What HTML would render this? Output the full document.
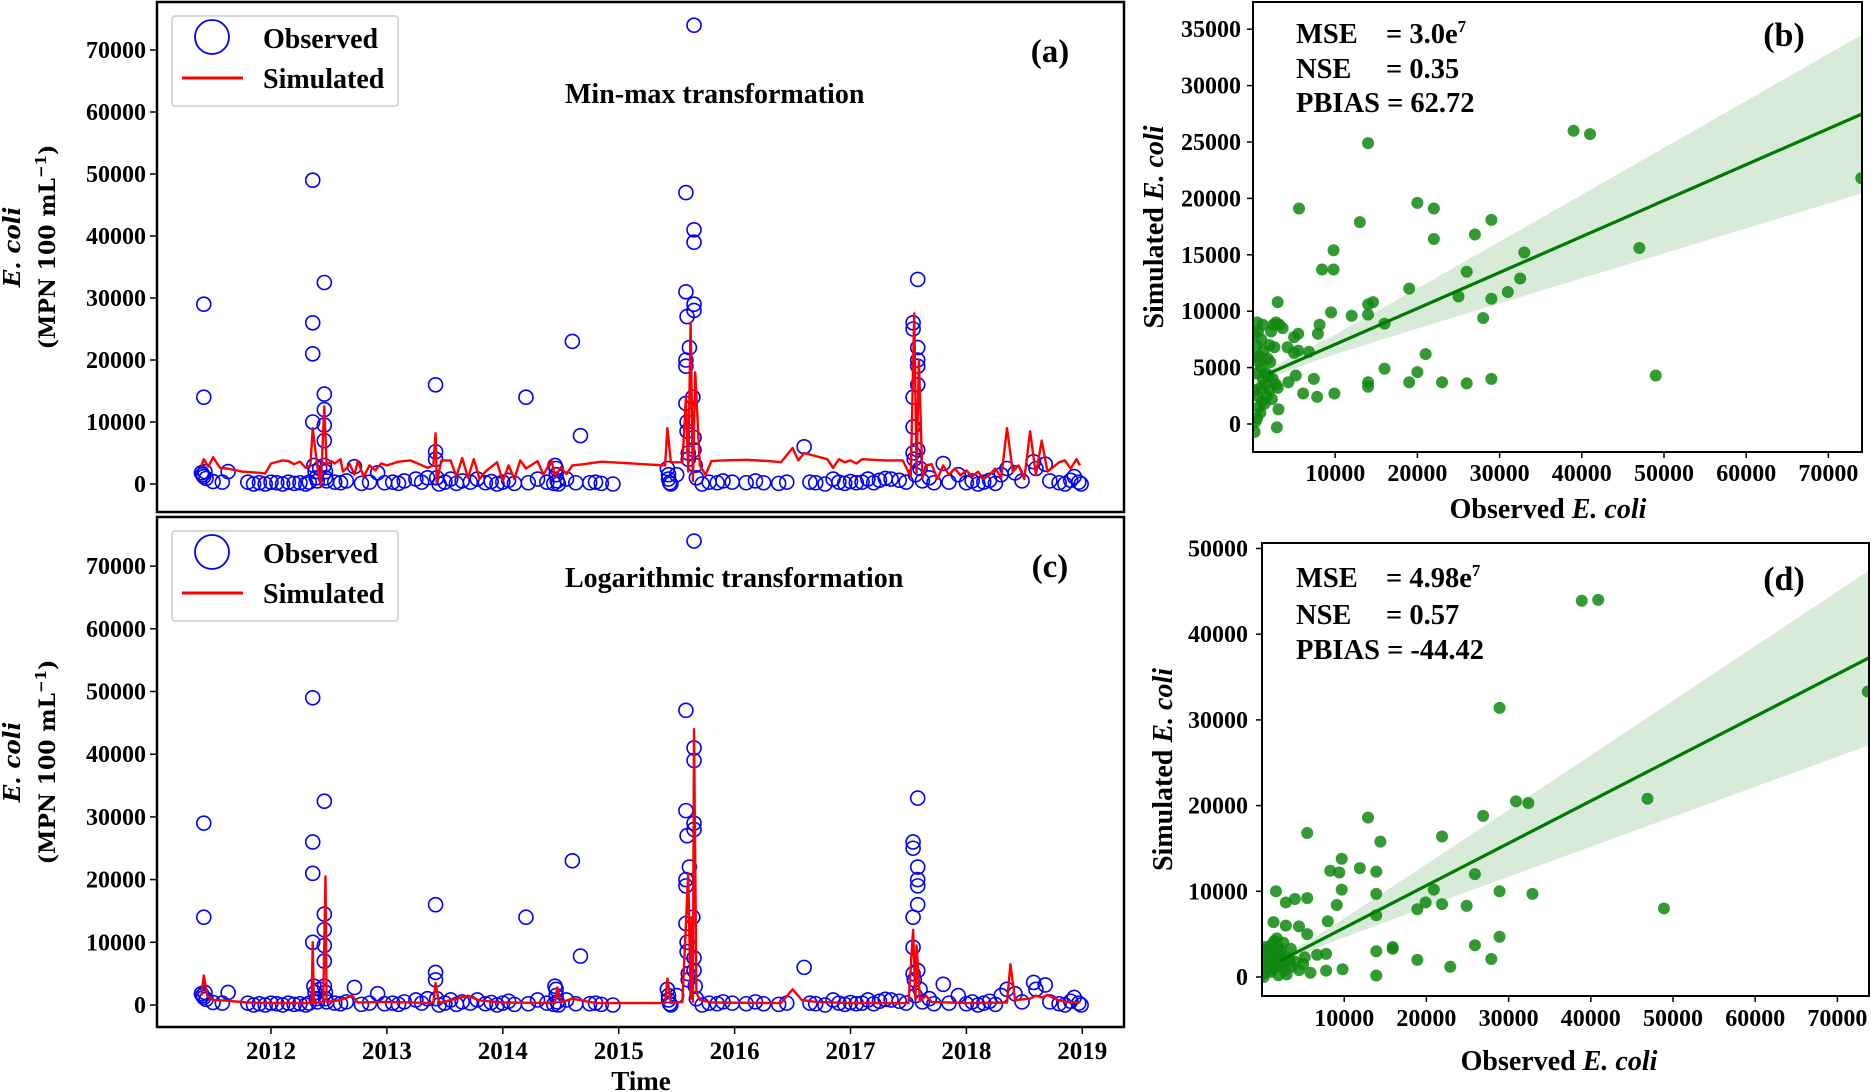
<!DOCTYPE html>
<html><head><meta charset="utf-8"><style>
html,body{margin:0;padding:0;background:#fff;}
svg{display:block;font-family:"Liberation Serif",serif;font-weight:bold;}
</style></head><body>
<svg id="fig" width="1871" height="1092" viewBox="0 0 1871 1092" xmlns="http://www.w3.org/2000/svg"></svg>
<script>
// ---------- DATA ----------
const obsT=[2011.40,2011.41,2011.42,2011.42,2011.42,2011.43,2011.44,2011.5,2011.58,2011.63,2011.8,2011.85,2011.9,2011.95,2012.0,2012.05,2012.1,2012.15,2012.2,2012.25,2012.3,2012.33,
2012.36,2012.36,2012.36,2012.36,2012.37,2012.38,2012.39,2012.4,2012.42,
2012.46,2012.46,2012.46,2012.46,2012.46,2012.46,2012.47,2012.47,2012.48,
2012.55,2012.6,2012.65,2012.72,2012.78,2012.85,2012.92,2012.98,2013.05,2013.1,2013.15,2013.25,2013.3,2013.35,
2013.42,2013.42,2013.42,2013.43,2013.45,2013.5,2013.55,2013.6,2013.65,2013.72,2013.78,2013.85,2013.9,2013.95,2014.0,2014.05,2014.1,2014.2,2014.22,2014.3,2014.38,2014.44,
2014.45,2014.46,2014.46,2014.47,2014.48,2014.55,2014.6,2014.63,2014.67,2014.75,2014.8,2014.85,2014.95,
2015.42,2015.43,2015.43,2015.44,2015.45,2015.5,
2015.58,2015.58,2015.59,2015.58,2015.58,2015.58,2015.59,2015.59,2015.6,2015.6,
2015.65,2015.65,2015.65,2015.65,2015.65,2015.61,2015.64,2015.65,2015.65,2015.66,2015.67,
2015.72,2015.78,2015.85,2015.9,2015.98,2016.1,2016.18,2016.25,2016.38,2016.45,2016.6,2016.65,2016.7,2016.78,2016.85,2016.9,2016.95,2017.0,2017.05,2017.1,2017.15,2017.2,2017.25,2017.3,2017.35,2017.42,2017.48,
2017.54,2017.54,2017.54,2017.54,2017.54,2017.55,2017.56,
2017.58,2017.58,2017.58,2017.58,2017.58,2017.58,2017.6,2017.62,
2017.68,2017.72,2017.8,2017.85,2017.93,2018.0,2018.05,2018.1,2018.15,2018.2,2018.25,2018.3,2018.35,2018.42,2018.48,2018.58,2018.6,2018.68,2018.72,2018.8,2018.85,2018.9,2018.93,2018.97,2018.99];
const obsV=[1800,1500,29000,14000,1200,2000,900,400,300,2000,300,0,200,0,300,200,0,300,100,200,0,300,
49000,26000,21000,10000,3000,2000,1000,500,2500,
32500,14500,12000,9500,7000,3000,2000,1000,500,
300,200,500,2800,100,300,1800,200,300,100,500,800,300,1000,
16000,5200,4000,1000,0,300,800,100,500,300,800,200,400,0,300,600,100,14000,200,800,300,100,
3000,2500,1500,500,0,800,23000,200,7800,200,300,100,0,
2500,1500,800,200,0,1500,
47000,31000,27000,20000,19000,13000,10000,8500,5000,4000,
74000,41000,39000,29000,28000,22000,14000,7500,5500,3000,1000,
0,300,200,500,300,200,500,200,100,300,6000,300,200,0,800,300,100,400,200,300,800,200,600,900,800,600,300,
26000,25000,14000,9200,5000,4000,1500,
33000,22000,20000,19000,16000,5500,2500,500,
1000,200,3300,300,1500,200,500,0,300,600,100,1500,2500,1800,500,3600,2500,3200,500,200,0,600,1200,300,0];
const simAT=[2011.4,2011.42,2011.46,2011.5,2011.56,2011.62,2011.75,2011.9,2011.95,2012.0,2012.1,2012.15,2012.2,2012.25,2012.3,2012.34,2012.36,2012.4,2012.43,2012.46,2012.48,2012.52,2012.55,2012.6,2012.62,2012.65,2012.68,2012.72,2012.75,2012.8,2012.85,2012.9,2012.95,2013.0,2013.1,2013.2,2013.28,2013.35,2013.4,2013.42,2013.43,2013.47,2013.55,2013.6,2013.65,2013.7,2013.75,2013.8,2013.85,2013.95,2014.0,2014.05,2014.1,2014.15,2014.2,2014.3,2014.35,2014.42,2014.45,2014.5,2014.55,2014.6,2014.7,2014.85,2015.4,2015.42,2015.45,2015.55,2015.58,2015.6,2015.62,2015.64,2015.66,2015.7,2015.75,2015.8,2015.9,2016.1,2016.3,2016.4,2016.5,2016.55,2016.6,2016.7,2016.8,2016.85,2016.9,2016.95,2017.0,2017.05,2017.1,2017.3,2017.45,2017.52,2017.55,2017.57,2017.59,2017.62,2017.65,2017.7,2017.75,2017.8,2017.85,2017.9,2017.95,2018.0,2018.05,2018.1,2018.15,2018.2,2018.25,2018.3,2018.35,2018.4,2018.45,2018.5,2018.55,2018.6,2018.65,2018.7,2018.8,2018.85,2018.9,2018.95,2018.98];
const simAV=[3000,4000,2800,4300,2600,2500,2000,1800,1700,3300,3800,3700,3200,3600,2600,3000,9000,2800,-300,12500,3000,3700,3300,4000,2000,2500,3200,1500,3700,1200,3000,2200,3300,3000,3600,3800,3200,2600,3000,8200,200,3800,3800,1200,4200,1000,4000,800,2000,3500,500,3000,800,3800,2500,3700,1500,3800,1200,2700,1600,3000,3200,3600,3000,9000,3500,3500,14000,2000,26000,500,18000,3000,1500,3700,3800,3900,3700,3500,5800,3800,5000,4500,4000,2600,4000,3500,3800,3300,4000,3800,3800,1200,27500,1800,20000,1000,3000,3200,800,3000,1500,2500,1400,2200,1200,2000,800,1500,2500,1000,9000,2000,3000,800,8500,1500,7000,2000,3500,3800,2500,4000,3000];
const simCT=[2011.4,2011.42,2011.45,2011.5,2011.6,2011.8,2012.0,2012.35,2012.36,2012.37,2012.45,2012.47,2012.48,2012.6,2012.7,2012.75,2013.0,2013.4,2013.42,2013.45,2013.6,2013.7,2013.8,2014.0,2014.45,2014.47,2014.5,2014.6,2014.8,2015.4,2015.42,2015.45,2015.55,2015.6,2015.62,2015.63,2015.64,2015.65,2015.67,2015.7,2015.8,2016.4,2016.5,2016.58,2016.7,2017.0,2017.5,2017.54,2017.56,2017.57,2017.6,2017.65,2017.7,2018.0,2018.35,2018.38,2018.42,2018.55,2018.6,2018.65,2018.7,2018.8,2018.9,2018.98];
const simCV=[1500,4700,1500,800,700,400,300,300,10000,300,500,20500,500,800,1500,400,500,300,3500,300,1000,1500,700,400,300,2800,400,1000,300,300,4200,300,500,21000,1000,14000,500,44000,2000,800,400,300,2500,800,500,300,300,12000,800,9500,600,1500,500,300,400,6500,800,1000,1500,1200,1600,700,400,500];
const yearTicks=[2012,2013,2014,2015,2016,2017,2018,2019];
const tsYTicks=[0,10000,20000,30000,40000,50000,60000,70000];
// scatter (b)
const bObs=[39000,41000,14000,5600,20000,22000,13000,29000,27000,22000,47000,9800,8400,9800,26000,33000,32500,19000,31000,29000,25000,3000,14600,14000,14000,12000,9500,28000,16000,8100,7900,5500,3600,5000,4200,5500,5000,6800,21000,16000,20000,49000,29000,19000,23000,26000,14000,14000,7400,5200,4300,6100,7800,9900,3100,2900,74000,
200,300,500,400,600,800,1000,1200,300,500,700,900,1100,1500,1800,2000,2200,2500,2800,3200,1600,2000,2400,2800,1300,1000,700,400,300,200,1700,2100,2600,900,1400,500,1900,2300,3000,1200];
const bSim=[26000,25700,24900,19100,19600,19100,17900,18100,16800,16400,15600,15400,13700,13700,13500,15200,12900,12000,11700,11100,11300,10800,10800,10600,9700,9600,9900,9400,8900,8800,8000,8000,8500,7700,6800,6500,6300,6400,6200,4900,4600,4300,4000,3700,3700,3600,3700,3300,4000,4300,3700,2700,2400,2700,1300,-300,21800,
-700,200,9000,7000,8200,6000,5000,4000,3000,2500,1500,1000,2000,3500,5800,7000,8200,8800,9000,8800,4500,3000,4000,3500,6500,7500,5500,4500,6000,8000,2500,5500,6800,3200,1800,500,4200,2200,3200,8800];
// scatter (d)
const dObs=[38900,40900,28900,73700,46900,30900,32400,26900,12900,5500,21900,14400,9700,11900,8300,9400,13900,25900,1700,9700,20900,28900,13900,32900,4000,5500,2900,19900,21900,9100,24900,18900,48900,13900,1400,8000,2900,4500,5500,28900,25900,15900,15900,13900,6700,7800,18900,27900,22900,7800,9800,5900,13900,
200,400,600,800,1000,1200,1500,1800,2000,2200,2500,2800,3000,3300,3600,400,700,900,1100,1400,1700,2000,2300,2600,300,600,1300,1600,2100,2900,3500,4000,4500,5000,5200];
const dSim=[43900,44000,31400,33300,20800,20500,20300,18800,18600,16800,16400,15800,13800,12700,12400,12200,12300,12000,10000,10200,10200,10000,9700,9700,9100,9200,8700,8700,8500,8400,8300,7900,8000,7200,6400,6500,6000,5900,5000,4700,3700,3500,3300,3000,2600,2700,2000,2100,1200,750,900,500,170,
0,500,1000,2000,3000,3800,4200,4500,3500,2500,1500,800,300,2000,1200,3500,2800,1500,600,2200,1200,200,3000,4000,1800,3200,1000,2800,1800,2300,3300,1800,800,1500,2300];
const bTicksY=[0,5000,10000,15000,20000,25000,30000,35000];
const dTicksY=[0,10000,20000,30000,40000,50000];
const scTicksX=[10000,20000,30000,40000,50000,60000,70000];
const bFit=[3870,0.3187]; // intercept, slope
const dFit=[800,0.4935];

// ---------- DRAW ----------
const NS='http://www.w3.org/2000/svg';
const svg=document.getElementById('fig');
function mk(tag,attrs,parent,name,inter){
  const e=document.createElementNS(NS,tag);
  for(const k in attrs)e.setAttribute(k,attrs[k]);
  
  
  (parent||svg).appendChild(e);return e;
}
function txt(x,y,s,size,opts,name){
  opts=opts||{};
  const t=mk('text',{x:x,y:y,'font-size':size,'text-anchor':opts.anchor||'start',fill:'#000'},opts.parent,name,false);
  if(opts.italic)t.setAttribute('font-style','italic');
  if(opts.family)t.setAttribute('font-family',opts.family);
  if(opts.transform)t.setAttribute('transform',opts.transform);
  if(opts.html)t.innerHTML=s;else t.textContent=s;
  return t;
}
const tx=y=>271+(y-2012)*115.9;

function tsPanel(top,bottom,y0,per10k,obsTT,obsVV,simT,simV,label,title,titleY,legTop,pName,showX){
  const L=157,R=1124;
  const yv=v=>y0-v/10000*per10k;
  const g=mk('g',{},svg,'panel-'+pName,false);
  const clipId='clip'+pName;
  const cp=mk('clipPath',{id:clipId},g,'clip-'+pName,false);
  mk('rect',{x:L,y:top,width:R-L,height:bottom-top},cp,'clip-rect',false);
  tsYTicks.forEach(v=>{
    mk('line',{x1:L-7,x2:L,y1:yv(v),y2:yv(v),stroke:'#000','stroke-width':1.5},g,'y-tick',false);
    txt(L-11,yv(v)+8,String(v),24,{anchor:'end',parent:g},'y-tick-label');
  });
  if(showX){
    yearTicks.forEach(y=>{
      mk('line',{x1:tx(y),x2:tx(y),y1:bottom,y2:bottom+7,stroke:'#000','stroke-width':1.5},g,'x-tick',false);
      txt(tx(y),1059,String(y),25,{anchor:'middle',parent:g},'x-tick-label');
    });
    txt(641,1090,'Time',27,{anchor:'middle',parent:g},'x-axis-title');
  }
  const pg=mk('g',{'clip-path':'url(#'+clipId+')'},g,'plot-area',false);
  obsTT.forEach((t,i)=>{
    mk('circle',{cx:tx(t),cy:yv(obsVV[i]),r:7,fill:'none',stroke:'#0000ff','stroke-width':1.6},pg,'observed-point',false);
  });
  let d='';simT.forEach((t,i)=>{d+=(i?'L':'M')+tx(t).toFixed(1)+','+yv(simV[i]).toFixed(1);});
  mk('path',{d:d,fill:'none',stroke:'#ff0000','stroke-width':2.4,'stroke-linejoin':'round'},pg,'simulated-line',false);
  mk('rect',{x:L,y:top,width:R-L,height:bottom-top,fill:'none',stroke:'#000','stroke-width':2.5},g,'plot-frame',false);
  const lg=mk('g',{},g,'legend',false);
  mk('rect',{x:172,y:legTop,width:226,height:90,rx:3,fill:'#fff',stroke:'#ccc','stroke-width':1.5},lg,'legend-box',false);
  mk('circle',{cx:212,cy:legTop+21,r:17,fill:'none',stroke:'#0000ff','stroke-width':1.8},lg,'legend-observed-marker',false);
  txt(263,legTop+32,'Observed',28,{parent:lg},'legend-observed-label');
  mk('line',{x1:182,x2:243,y1:legTop+62,y2:legTop+62,stroke:'#ff0000','stroke-width':3},lg,'legend-simulated-marker',false);
  txt(263,legTop+72,'Simulated',28,{parent:lg},'legend-simulated-label');
  txt(1050,legTop+46,label,33,{anchor:'middle',parent:g},'panel-label');
  txt(565,titleY,title,28,{parent:g},'panel-title');
  const cy=(top+bottom)/2-10;
  txt(20,cy,'<tspan font-style="italic">E. coli</tspan>',23,{anchor:'middle',html:true,family:'"DejaVu Serif",serif',transform:'rotate(-90 20 '+cy+')',parent:g},'y-axis-title');
  txt(55,cy,'(MPN 100 mL<tspan font-size="15" dy="-9">−1</tspan><tspan dy="9">)</tspan>',22,{anchor:'middle',html:true,family:'"DejaVu Serif",serif',transform:'rotate(-90 55 '+cy+')',parent:g},'y-axis-unit');
}
tsPanel(2,512,484,62,obsT,obsV,simAT,simAV,'(a)','Min-max transformation',103,16,'a',false);
tsPanel(517,1027,1005,62.7,obsT,obsV,simCT,simCV,'(c)','Logarithmic transformation',587,531,'c',true);

function scPanel(L,R,top,bottom,y0,perY,yTicks,obs,sim,fit,bandEnd,xm,stats,label,statsY,xtY,titleY,pName,xTitleX,yTitleX,tickRight,x0px){
  const xs=v=>x0px+v/10000*82.2;
  const ys=v=>y0-v/10000*perY;
  const g=mk('g',{},svg,'panel-'+pName,false);
  const clipId='clip'+pName;
  const cp=mk('clipPath',{id:clipId},g,'clip-'+pName,false);
  mk('rect',{x:L,y:top,width:R-L,height:bottom-top},cp,'clip-rect',false);
  yTicks.forEach(v=>{
    mk('line',{x1:L-6,x2:L,y1:ys(v),y2:ys(v),stroke:'#000','stroke-width':1.5},g,'y-tick',false);
    txt(tickRight,ys(v)+8,String(v),24,{anchor:'end',parent:g},'y-tick-label');
  });
  scTicksX.forEach(v=>{
    mk('line',{x1:xs(v),x2:xs(v),y1:bottom,y2:bottom+6,stroke:'#000','stroke-width':1.5},g,'x-tick',false);
    txt(xs(v),xtY,String(v),24,{anchor:'middle',parent:g},'x-tick-label');
  });
  const pg=mk('g',{'clip-path':'url(#'+clipId+')'},g,'plot-area',false);
  const xmax=76000;let up='',lo='';
  const hw=x=>Math.sqrt(250000+Math.pow(bandEnd*(x-xm)/(74000-xm),2));
  const pts=[];for(let x=0;x<=xmax;x+=1000)pts.push(x);
  pts.forEach((x,i)=>{up+=(i?'L':'M')+xs(x).toFixed(1)+','+ys(fit[0]+fit[1]*x+hw(x)).toFixed(1);});
  pts.slice().reverse().forEach(x=>{lo+='L'+xs(x).toFixed(1)+','+ys(fit[0]+fit[1]*x-hw(x)).toFixed(1);});
  mk('path',{d:up+lo+'Z',fill:'#d8ebd8',stroke:'none'},pg,'confidence-band',false);
  obs.forEach((o,i)=>{
    mk('circle',{cx:xs(o),cy:ys(sim[i]),r:6,fill:'#118811','fill-opacity':0.85},pg,'scatter-point',false);
  });
  const xl0=xm*0.75;
  mk('line',{x1:xs(xl0),y1:ys(fit[0]+fit[1]*xl0),x2:xs(xmax),y2:ys(fit[0]+fit[1]*xmax),stroke:'#007a00','stroke-width':3.2},pg,'regression-line',false);
  mk('rect',{x:L,y:top,width:R-L,height:bottom-top,fill:'none',stroke:'#000','stroke-width':2},g,'plot-frame',false);
  const sx=1296;
  txt(sx,statsY[0],'MSE',28.5,{parent:g},'stat-mse-label');
  txt(1386,statsY[0],stats[0],28.5,{html:true,parent:g},'stat-mse-value');
  txt(sx,statsY[1],'NSE',28.5,{parent:g},'stat-nse-label');
  txt(1386,statsY[1],stats[1],28.5,{parent:g},'stat-nse-value');
  txt(sx,statsY[2],'PBIAS = '+stats[2],28.5,{parent:g},'stat-pbias');
  txt(1784,statsY[0]+3,label,34,{anchor:'middle',parent:g},'panel-label');
  txt(xTitleX,titleY,'Observed  <tspan font-style="italic">E. coli</tspan>',28,{anchor:'middle',html:true,parent:g,},'x-axis-title').setAttribute('xml:space','preserve');
  const cy=(top+bottom)/2;
  txt(yTitleX,cy,'Simulated  <tspan font-style="italic">E. coli</tspan>',28,{anchor:'middle',html:true,transform:'rotate(-90 '+yTitleX+' '+cy+')',parent:g},'y-axis-title').setAttribute('xml:space','preserve');
}
scPanel(1253,1862,2,452,424,112.8,bTicksY,bObs,bSim,bFit,7000,2500,
  ['= 3.0e<tspan font-size="17" dy="-11">7</tspan>','= 0.35','62.72'],'(b)',[43,78,112],481,518,'b',1548,1163,1241,1253);
scPanel(1262,1869,543,996,977,85.7,dTicksY,dObs,dSim,dFit,10200,3000,
  ['= 4.98e<tspan font-size="17" dy="-11">7</tspan>','= 0.57','-44.42'],'(d)',[587,624,659],1026,1070,'d',1559,1172,1248,1262);
</script>
</body></html>
